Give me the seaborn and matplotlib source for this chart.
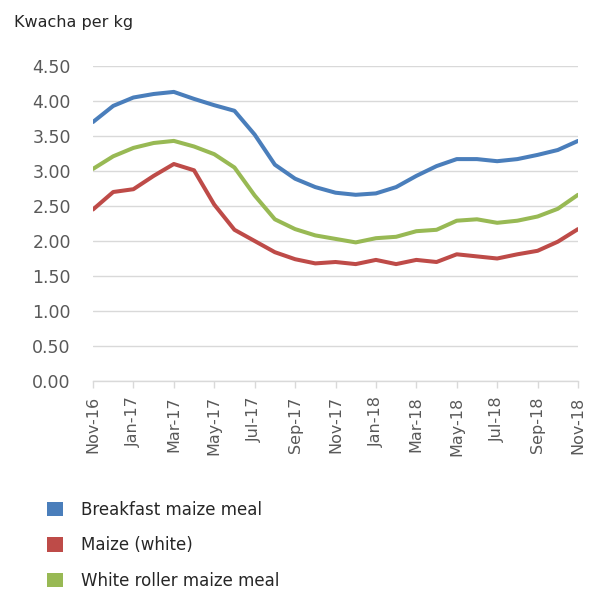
import matplotlib
matplotlib.use("Agg")
import matplotlib.pyplot as plt
import seaborn as sns
import pandas as pd
from matplotlib.patches import Patch

months = ["Nov-16", "Dec-16", "Jan-17", "Feb-17", "Mar-17", "Apr-17", "May-17", "Jun-17",
          "Jul-17", "Aug-17", "Sep-17", "Oct-17", "Nov-17", "Dec-17", "Jan-18", "Feb-18",
          "Mar-18", "Apr-18", "May-18", "Jun-18", "Jul-18", "Aug-18", "Sep-18", "Oct-18", "Nov-18"]

breakfast = [3.70, 3.93, 4.05, 4.10, 4.13, 4.03, 3.94, 3.86, 3.52, 3.09, 2.89, 2.77, 2.69,
             2.66, 2.68, 2.77, 2.93, 3.07, 3.17, 3.17, 3.14, 3.17, 3.23, 3.30, 3.43]
maize_white = [2.45, 2.70, 2.74, 2.93, 3.10, 3.01, 2.52, 2.16, 2.00, 1.84, 1.74, 1.68, 1.70,
               1.67, 1.73, 1.67, 1.73, 1.70, 1.81, 1.78, 1.75, 1.81, 1.86, 1.99, 2.17]
white_roller = [3.03, 3.21, 3.33, 3.40, 3.43, 3.35, 3.24, 3.05, 2.65, 2.31, 2.17, 2.08, 2.03,
                1.98, 2.04, 2.06, 2.14, 2.16, 2.29, 2.31, 2.26, 2.29, 2.35, 2.46, 2.66]

series_names = ["Breakfast maize meal", "Maize (white)", "White roller maize meal"]
colors = ["#4a7ebb", "#be4b48", "#98b954"]
y_ticks = [0.0, 0.5, 1.0, 1.5, 2.0, 2.5, 3.0, 3.5, 4.0, 4.5]

df = pd.DataFrame({
    "month": months * 3,
    "price": breakfast + maize_white + white_roller,
    "series": [series_names[0]] * len(months) + [series_names[1]] * len(months)
              + [series_names[2]] * len(months),
})

sns.set_style("white")
plt.rcParams["font.family"] = ["DejaVu Sans"]

fig = plt.figure(figsize=(5.96, 5.89), dpi=100)
ax = fig.add_axes([93 / 596, 1 - 381 / 589, (578 - 93) / 596, (381 - 66) / 589])

sns.lineplot(data=df, x="month", y="price", hue="series", hue_order=series_names,
             palette=colors, linewidth=2.9, ax=ax, legend=False, sort=False)

ax.set_xlim(0, len(months) - 1)
ax.set_ylim(0, 4.5)
ax.set_yticks(y_ticks)
ax.set_yticklabels([f"{v:.2f}" for v in y_ticks])
ax.set_xticks(range(0, len(months), 2))
ax.set_xticklabels(months[::2], rotation=90)
ax.set_xlabel("")
ax.set_ylabel("")

ax.grid(axis="y", color="#d9d9d9", linewidth=1.0)
ax.set_axisbelow(True)
for s in ["top", "right", "left"]:
    ax.spines[s].set_visible(False)
ax.spines["bottom"].set_color("#d9d9d9")
ax.spines["bottom"].set_linewidth(1.0)

ax.tick_params(axis="y", length=0, pad=16, labelsize=12.5, labelcolor="#595959")
ax.tick_params(axis="x", length=5, width=1, color="#d9d9d9", direction="out",
               pad=6, labelsize=11.5, labelcolor="#595959", bottom=True)

fig.text(14 / 596, 1 - 22 / 589, "Kwacha per kg", fontsize=11.5, color="#262626",
         ha="left", va="center")

handles = [Patch(facecolor=c, edgecolor="none") for c in colors]
fig.legend(handles, series_names, loc="upper left",
           bbox_to_anchor=(35 / 596, 1 - 489 / 589), frameon=False,
           fontsize=12, handlelength=0.95, handleheight=0.95, handletextpad=1.1,
           labelspacing=1.05, labelcolor="#262626", borderaxespad=0.3)

fig.savefig("out.png", dpi=100, facecolor="white")
